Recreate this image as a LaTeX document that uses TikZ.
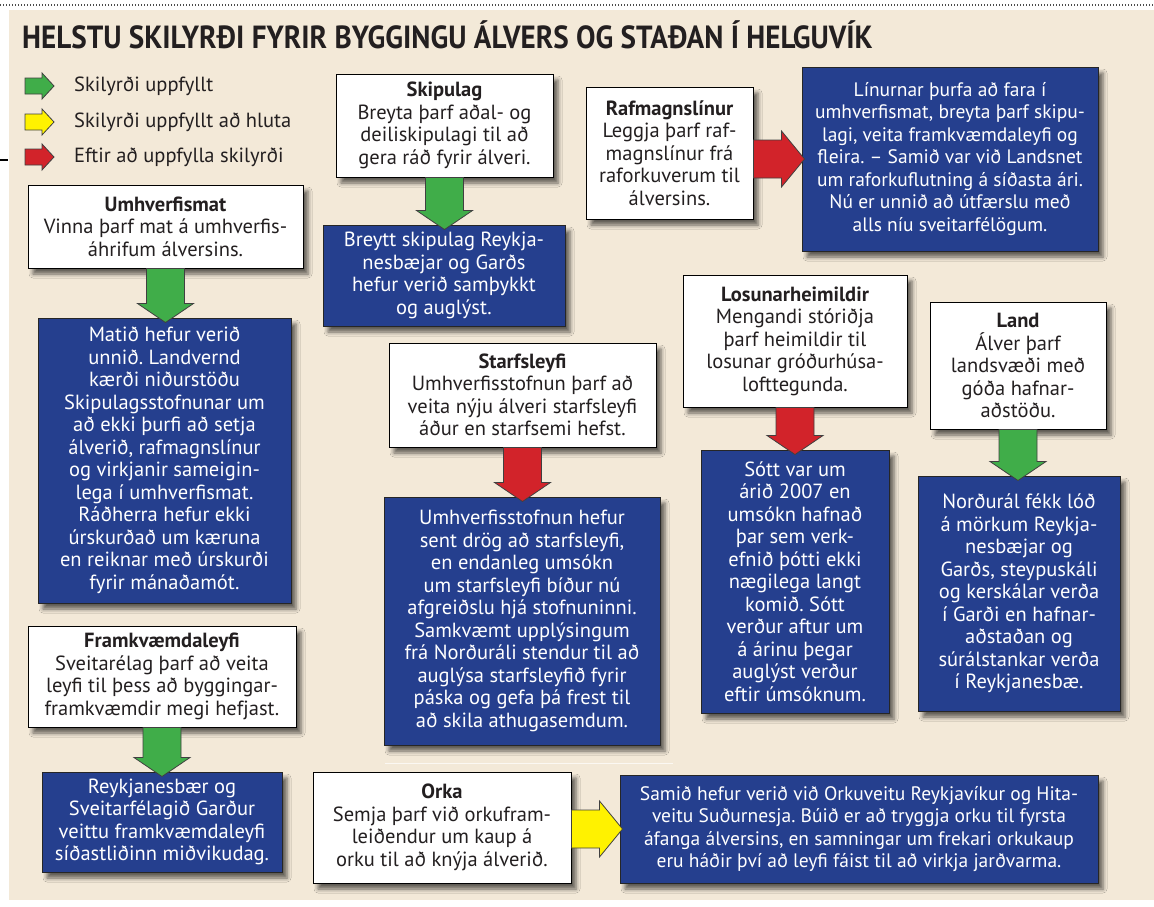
\documentclass[tikz,border=0pt]{standalone}
\usepackage{fontspec}
\setmainfont{PT Sans}
\newfontfamily\titlefont[FakeStretch=0.91]{PT Sans}
\usetikzlibrary{calc,shadows.blur}
\frenchspacing

\definecolor{paper}{RGB}{243,233,216}
\definecolor{boxblue}{RGB}{37,63,142}
\definecolor{textdark}{RGB}{35,31,32}
\definecolor{arrgreen}{RGB}{64,173,73}
\definecolor{arryellow}{RGB}{255,242,0}
\definecolor{arrred}{RGB}{210,35,42}

% fat arrow from the bottom of #2 into the top of #3
\newcommand{\arrowdown}[3]{%
	\draw[blockarrow, fill=#1] ($(#2.south)+(-19,0)$) -- ($(#2.south |- #3.north)+(-19,-14)$) -- ($(#2.south |- #3.north)+(-28,-14)$) -- ($(#2.south |- #3.north)+(0,5)$) -- ($(#2.south |- #3.north)+(28,-14)$) -- ($(#2.south |- #3.north)+(19,-14)$) -- ($(#2.south)+(19,0)$) -- cycle;
}
% fat arrow from the right side of #2 into the left side of #3
\newcommand{\arrowright}[3]{%
	\draw[blockarrow, fill=#1] ($(#3.west -| #2.east)+(0,-19)$) -- ($(#3.west)+(-20,-19)$) -- ($(#3.west)+(-20,-28)$) -- ($(#3.west)+(3,0)$) -- ($(#3.west)+(-20,28)$) -- ($(#3.west)+(-20,19)$) -- ($(#3.west -| #2.east)+(0,19)$) -- cycle;
}

\begin{document}
\begin{tikzpicture}[x=1pt, y=-1pt,
		boxtext/.style={align=center, inner sep=0pt, line width=1pt, font=\fontsize{20.5}{22.5}\selectfont,
			blur shadow={shadow xshift=5pt, shadow yshift=-6pt, shadow blur radius=4pt, shadow opacity=60}},
		whitebox/.style={boxtext, draw=black, fill=white, text=textdark},
		bluebox/.style={boxtext, draw=black!85, fill=boxblue, text=white},
		smalltext/.style={font=\fontsize{19.5}{22.5}\selectfont},
		blockarrow/.style={draw=black!75, line width=0.8pt, line join=miter},
		legendtext/.style={inner sep=0pt, text=textdark, font=\fontsize{20.5}{22.5}\selectfont}]
	\useasboundingbox (0,0) rectangle (1154,906);
	\fill[white] (0,0) rectangle (1154,906);
	\fill[paper] (9,10) rectangle (1154,900);
	\draw[black!70, line width=1.2pt, dash pattern=on 1.2pt off 1.8pt] (0,5) -- (1154,5);
	\draw[line width=1.5pt] (0,160) -- (8,160);
	\draw[white, opacity=0.7, line width=1pt] (385,763) -- (673,763);
	
	% Title
	\node[anchor=base west, inner sep=0pt, text=textdark, font=\titlefont\bfseries\fontsize{32}{32}\selectfont] (title) at (22,48) {HELSTU SKILYRÐI FYRIR BYGGINGU ÁLVERS OG STAÐAN Í HELGUVÍK};
	
	% Legend
	\foreach \col/\y/\txt [count=\i] in {arrgreen/86/Skilyrði uppfyllt, arryellow/122/Skilyrði uppfyllt að hluta, arrred/157/Eftir að uppfylla skilyrði}{
		\draw[blockarrow, fill=\col] (25,{\y-8}) -- (42,{\y-8}) -- (42,{\y-13}) -- (54,\y) -- (42,{\y+13}) -- (42,{\y+8}) -- (25,{\y+8}) -- cycle;
		\node[legendtext, anchor=west] (leg\i) at (74,\y) {\txt};
	}
	
	% Umhverfismat
	\node[whitebox, minimum width=275, minimum height=83] (umh) at (165.5,226.5) {\textbf{Umhverfismat}\\Vinna þarf mat á umhverfis-\\áhrifum álversins.};
	\node[bluebox, minimum width=253, minimum height=285] (mat) at (164.5,460.5) {Matið hefur verið\\unnið. Landvernd\\kærði niðurstöðu\\Skipulagsstofnunar um\\að ekki þurfi að setja\\álverið, rafmagnslínur\\og virkjanir sameigin-\\lega í umhverfismat.\\Ráðherra hefur ekki\\úrskurðað um kæruna\\en reiknar með úrskurði\\fyrir mánaðamót.};
	
	% Skipulag
	\node[whitebox, minimum width=217, minimum height=103] (skip) at (444.5,125.5) {\textbf{Skipulag}\\Breyta þarf aðal- og\\deiliskipulagi til að\\gera ráð fyrir álveri.};
	\node[bluebox, minimum width=242, minimum height=101] (breytt) at (444,275.5) {Breytt skipulag Reykja-\\nesbæjar og Garðs\\hefur verið samþykkt\\og auglýst.};
	
	% Rafmagnslinur
	\node[whitebox, minimum width=167, minimum height=132] (raf) at (669.5,153) {\textbf{Rafmagnslínur}\\Leggja þarf raf-\\magnslínur frá\\raforkuverum til\\álversins.};
	\node[bluebox, smalltext, minimum width=296, minimum height=184] (lin) at (950,159) {Línurnar þurfa að fara í\\umhverfismat, breyta þarf skipu-\\lagi, veita framkvæmdaleyfi og\\fleira. – Samið var við Landsnet\\um raforkuflutning á síðasta ári.\\Nú er unnið að útfærslu með\\alls níu sveitarfélögum.};
	
	% Starfsleyfi
	\node[whitebox, minimum width=267, minimum height=104] (starf) at (522.5,395) {\textbf{Starfsleyfi}\\Umhverfisstofnun þarf að\\veita nýju álveri starfsleyfi\\áður en starfsemi hefst.};
	\node[bluebox, minimum width=276, minimum height=248] (umhst) at (522,621) {Umhverfisstofnun hefur\\sent drög að starfsleyfi,\\en endanleg umsókn\\um starfsleyfi bíður nú\\afgreiðslu hjá stofnuninni.\\Samkvæmt upplýsingum\\frá Norðuráli stendur til að\\auglýsa starfsleyfið fyrir\\páska og gefa þá frest til\\að skila athugasemdum.};
	
	% Losunarheimildir
	\node[whitebox, minimum width=224, minimum height=132] (losun) at (795,341) {\textbf{Losunarheimildir}\\Mengandi stóriðja\\þarf heimildir til\\losunar gróðurhúsa-\\lofttegunda.};
	\node[bluebox, minimum width=188, minimum height=263] (sott) at (795,581.5) {Sótt var um\\árið 2007 en\\umsókn hafnað\\þar sem verk-\\efnið þótti ekki\\nægilega langt\\komið. Sótt\\verður aftur um\\á árinu þegar\\auglýst verður\\eftir úmsóknum.};
	
	% Land
	\node[whitebox, minimum width=176, minimum height=127] (land) at (1018,365.5) {\textbf{Land}\\Álver þarf\\landsvæði með\\góða hafnar-\\aðstöðu.};
	\node[bluebox, minimum width=202, minimum height=235] (nord) at (1019,593.5) {Norðurál fékk lóð\\á mörkum Reykja-\\nesbæjar og\\Garðs, steypuskáli\\og kerskálar verða\\í Garði en hafnar-\\aðstaðan og\\súrálstankar verða\\í Reykjanesbæ.};
	
	% Framkvaemdaleyfi
	\node[whitebox, minimum width=268, minimum height=101] (framk) at (162,676.5) {\textbf{Framkvæmdaleyfi}\\Sveitarélag þarf að veita\\leyfi til þess að byggingar-\\framkvæmdir megi hefjast.};
	\node[bluebox, minimum width=240, minimum height=100] (reykj) at (162,822) {Reykjanesbær og\\Sveitarfélagið Garður\\veittu framkvæmdaleyfi\\síðastliðinn miðvikudag.};
	
	% Orka
	\node[whitebox, minimum width=258, minimum height=111] (orka) at (442,827.5) {\textbf{Orka}\\Semja þarf við orkufram-\\leiðendur um kaup á\\orku til að knýja álverið.};
	\node[bluebox, smalltext, minimum width=478, minimum height=108] (samid) at (859,829) {Samið hefur verið við Orkuveitu Reykjavíkur og Hita-\\veitu Suðurnesja. Búið er að tryggja orku til fyrsta\\áfanga álversins, en samningar um frekari orkukaup\\eru háðir því að leyfi fáist til að virkja jarðvarma.};
	
	% Arrows
	\arrowdown{arrgreen}{umh}{mat}
	\arrowdown{arrgreen}{skip}{breytt}
	\arrowright{arrred}{raf}{lin}
	\arrowdown{arrred}{starf}{umhst}
	\arrowdown{arrred}{losun}{sott}
	\arrowdown{arrgreen}{land}{nord}
	\arrowdown{arrgreen}{framk}{reykj}
	\arrowright{arryellow}{orka}{samid}
\end{tikzpicture}
\end{document}
